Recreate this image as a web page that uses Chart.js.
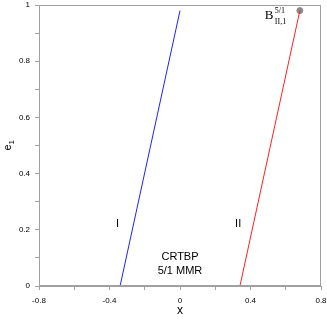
<!DOCTYPE html>
<html>
<head>
<meta charset="utf-8">
<script src="https://cdn.jsdelivr.net/npm/chart.js@4"></script>
<style>
  html, body { margin: 0; padding: 0; background: #fff; }
  #wrap { width: 327px; height: 319px; }
</style>
</head>
<body>
<div id="wrap"><canvas id="chart"></canvas></div>
<script>
// family I (blue) and family II (red), x vs e1
var lineIx = [-0.34, -0.17, 0.0];
var lineIe = [0.0, 0.49, 0.98];
var lineIIx = [0.34, 0.51, 0.68];
var lineIIe = [0.0, 0.49, 0.98];
var pointB = { x: 0.68, y: 0.98 };

var xTicks = [-0.8, -0.4, 0, 0.4, 0.8];
var yTicks = [0, 0.2, 0.4, 0.6, 0.8, 1];

// labels drawn on the plot
var notes = [
  { text: "I", x: -0.355, y: 0.22 },
  { text: "II", x: 0.33, y: 0.22 },
  { text: "CRTBP", x: 0.0, y: 0.103 },
  { text: "5/1 MMR", x: 0.0, y: 0.053 }
];

function toPts(xs, ys) {
  return xs.map(function (v, i) { return { x: v, y: ys[i] }; });
}

function isMajor(v, list) {
  return list.some(function (t) { return Math.abs(t - v) < 1e-6; });
}

var axisGray = "#a0a0a0";

var extras = {
  id: "extras",
  afterDraw: function (chart) {
    var c = chart.ctx, a = chart.chartArea;
    var xs = chart.scales.x, ys = chart.scales.y;
    c.save();
    // frame
    c.strokeStyle = axisGray;
    c.lineWidth = 1;
    c.strokeRect(a.left + 0.5, a.top + 0.5, a.right - a.left - 1, a.bottom - a.top - 1);

    c.fillStyle = "#000";
    c.textAlign = "center";
    c.textBaseline = "middle";
    c.font = "11px 'Liberation Sans', Arial, sans-serif";
    notes.forEach(function (n) {
      c.fillText(n.text, xs.getPixelForValue(n.x), ys.getPixelForValue(n.y));
    });

    // B label (serif with super/subscripts)
    var bx = xs.getPixelForValue(0.68) - 35;
    var by = ys.getPixelForValue(0.98) + 8;
    c.textAlign = "left";
    c.textBaseline = "alphabetic";
    c.font = "13px 'Liberation Serif', 'Times New Roman', serif";
    c.fillText("B", bx, by);
    c.font = "8px 'Liberation Serif', 'Times New Roman', serif";
    c.fillText("5/1", bx + 10, by - 6);
    c.fillText("II,1", bx + 10, by + 5);

    // axis titles
    c.font = "12px 'Liberation Sans', Arial, sans-serif";
    c.textAlign = "center";
    c.fillText("x", (a.left + a.right) / 2, 314);

    c.translate(11, (a.top + a.bottom) / 2);
    c.rotate(-Math.PI / 2);
    c.font = "11px 'Liberation Sans', Arial, sans-serif";
    c.textAlign = "left";
    c.fillText("e", -5, 0);
    c.font = "8px 'Liberation Sans', Arial, sans-serif";
    c.fillText("1", 1, 3);
    c.restore();
  }
};

new Chart(document.getElementById("chart"), {
  type: "scatter",
  data: {
    datasets: [
      {
        data: toPts(lineIx, lineIe),
        showLine: true,
        borderColor: "#2020ff",
        borderWidth: 1,
        pointRadius: 0
      },
      {
        data: toPts(lineIIx, lineIIe),
        showLine: true,
        borderColor: "#ff2020",
        borderWidth: 1,
        pointRadius: 0
      },
      {
        data: [pointB],
        backgroundColor: "#8a8a8a",
        borderColor: "#8a8a8a",
        pointRadius: 3
      }
    ]
  },
  options: {
    responsive: true,
    maintainAspectRatio: false,
    animation: false,
    layout: { padding: { top: 5, right: 6, left: 0, bottom: 0 } },
    plugins: { legend: { display: false }, tooltip: { enabled: false } },
    scales: {
      x: {
        type: "linear",
        min: -0.8,
        max: 0.8,
        afterFit: function (s) {
          s.height = 33;
          s.paddingLeft = 0;
          s.paddingRight = 0;
        },
        afterBuildTicks: function (s) {
          var t = [];
          for (var i = 0; i <= 8; i++) t.push({ value: -0.8 + i * 0.2 });
          s.ticks = t;
        },
        grid: { drawOnChartArea: false, drawTicks: true, tickLength: 4, color: axisGray },
        border: { color: axisGray },
        ticks: {
          autoSkip: false,
          maxRotation: 0,
          padding: 6,
          color: "#000",
          font: { size: 8, family: "'Liberation Sans', Arial, sans-serif" },
          callback: function (v) {
            v = Math.round(v * 10) / 10;
            return isMajor(v, xTicks) ? String(v) : "";
          }
        }
      },
      y: {
        type: "linear",
        min: 0,
        max: 1,
        afterFit: function (s) {
          s.width = 39;
          s.paddingTop = 0;
          s.paddingBottom = 0;
        },
        afterBuildTicks: function (s) {
          var t = [];
          for (var i = 0; i <= 10; i++) t.push({ value: i * 0.1 });
          s.ticks = t;
        },
        grid: { drawOnChartArea: false, drawTicks: true, tickLength: 4, color: axisGray },
        border: { color: axisGray },
        ticks: {
          autoSkip: false,
          padding: 5,
          color: "#000",
          font: { size: 8, family: "'Liberation Sans', Arial, sans-serif" },
          callback: function (v) {
            v = Math.round(v * 10) / 10;
            return isMajor(v, yTicks) ? String(v) : "";
          }
        }
      }
    }
  },
  plugins: [extras]
});
</script>
</body>
</html>
